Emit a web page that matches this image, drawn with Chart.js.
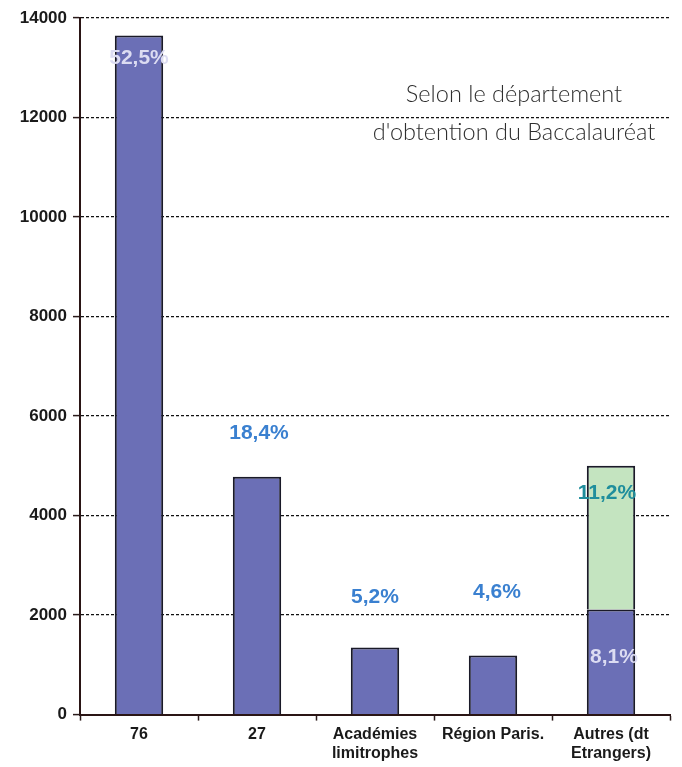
<!DOCTYPE html>
<html>
<head>
<meta charset="utf-8">
<script src="https://cdn.jsdelivr.net/npm/chart.js@4.4.1/dist/chart.umd.min.js"></script>
<style>
html,body{margin:0;padding:0;background:#fff;}
#wrap{position:relative;width:682px;height:767px;}
</style>
</head>
<body>
<div id="wrap"><canvas id="c" width="682" height="767"></canvas></div>
<script>
// ---- data ----
const categories = [["76"], ["27"], ["Académies", "limitrophes"], ["Région Paris."], ["Autres (dt", "Etrangers)"]];
const baseValues = [13650, 4780, 1350, 1190, 2110];
const foreignValues = [null, null, null, null, 2890];
const baseShares = ["52,5%", "18,4%", "5,2%", "4,6%", "8,1%"];
const foreignShares = [null, null, null, null, "11,2%"];
const yTicks = [0, 2000, 4000, 6000, 8000, 10000, 12000, 14000];
const subtitleLines = ["Selon le département", "d'obtention du Baccalauréat"];

// ---- styles / label placement (pixels) ----
const baseLabelStyle = [
  {color: "#dcdcf2", dx: 0, dy: 23},
  {color: "#3a80d0", dx: 2, dy: -44},
  {color: "#3a80d0", dx: 0, dy: -50},
  {color: "#3a80d0", dx: 4, dy: -63},
  {color: "#dcdcf2", dx: 3, dy: 48}
];
const foreignLabelStyle = [null, null, null, null, {color: "#1f8e9c", dx: -4, dy: 27}];

const shareLabels = {
  id: "shareLabels",
  afterDatasetsDraw(chart) {
    const ctx = chart.ctx;
    ctx.save();
    ctx.font = "bold 21px 'Liberation Sans', Arial, sans-serif";
    ctx.textAlign = "center";
    ctx.textBaseline = "middle";
    const sets = [[0, baseShares, baseLabelStyle], [1, foreignShares, foreignLabelStyle]];
    sets.forEach(([di, texts, styles]) => {
      const meta = chart.getDatasetMeta(di);
      texts.forEach((t, i) => {
        if (!t) return;
        const el = meta.data[i];
        const st = styles[i];
        ctx.fillStyle = st.color;
        ctx.fillText(t, el.x + st.dx, el.y + st.dy);
      });
    });
    ctx.restore();
  }
};

const subtitle = {
  id: "subtitle",
  afterDraw(chart) {
    const ctx = chart.ctx;
    ctx.save();
    ctx.font = "300 23.5px Lato, 'Open Sans', sans-serif";
    ctx.fillStyle = "#2e2e2e";
    ctx.textAlign = "center";
    ctx.textBaseline = "middle";
    ctx.fillText(subtitleLines[0], 514, 94);
    ctx.fillText(subtitleLines[1], 514, 132);
    ctx.restore();
  }
};

Chart.defaults.font.family = "'Liberation Sans', Arial, sans-serif";
Chart.defaults.color = "#1a1a1a";

new Chart(document.getElementById("c"), {
  type: "bar",
  data: {
    labels: categories,
    datasets: [
      {data: baseValues, backgroundColor: "#6b6fb6", borderColor: "#1a1a28", borderWidth: 2},
      {data: foreignValues, backgroundColor: "#c4e4c0", borderColor: "#1a1a28", borderWidth: 2}
    ]
  },
  options: {
    responsive: false,
    animation: false,
    devicePixelRatio: 1,
    layout: {padding: {top: 18, right: 12, left: 18, bottom: 0}},
    plugins: {legend: {display: false}, tooltip: {enabled: false}},
    datasets: {bar: {categoryPercentage: 1, barPercentage: 0.41}},
    scales: {
      x: {
        stacked: true,
        grid: {display: true, drawOnChartArea: false, offset: true, tickLength: 6, tickColor: "#2a1a1a", tickWidth: 1.5},
        border: {color: "#2a1515", width: 2},
        ticks: {font: {size: 16, weight: "bold"}, padding: 4, color: "#1a1a1a", maxRotation: 0, autoSkip: false}
      },
      y: {
        stacked: true,
        min: 0, max: 14000,
        afterBuildTicks: s => { s.ticks = yTicks.map(v => ({value: v})); },
        afterFit: s => { s.width = 62; },
        grid: {color: "#111", lineWidth: 1.2, tickLength: 7, tickColor: "#2a1a1a", tickWidth: 1.5, tickBorderDash: []},
        border: {color: "#2a1515", width: 2, dash: [3, 2]},
        ticks: {font: {size: 17, weight: "bold"}, padding: 6, color: "#1a1a1a", callback: v => String(v)}
      }
    }
  },
  plugins: [shareLabels, subtitle]
});
</script>
</body>
</html>
